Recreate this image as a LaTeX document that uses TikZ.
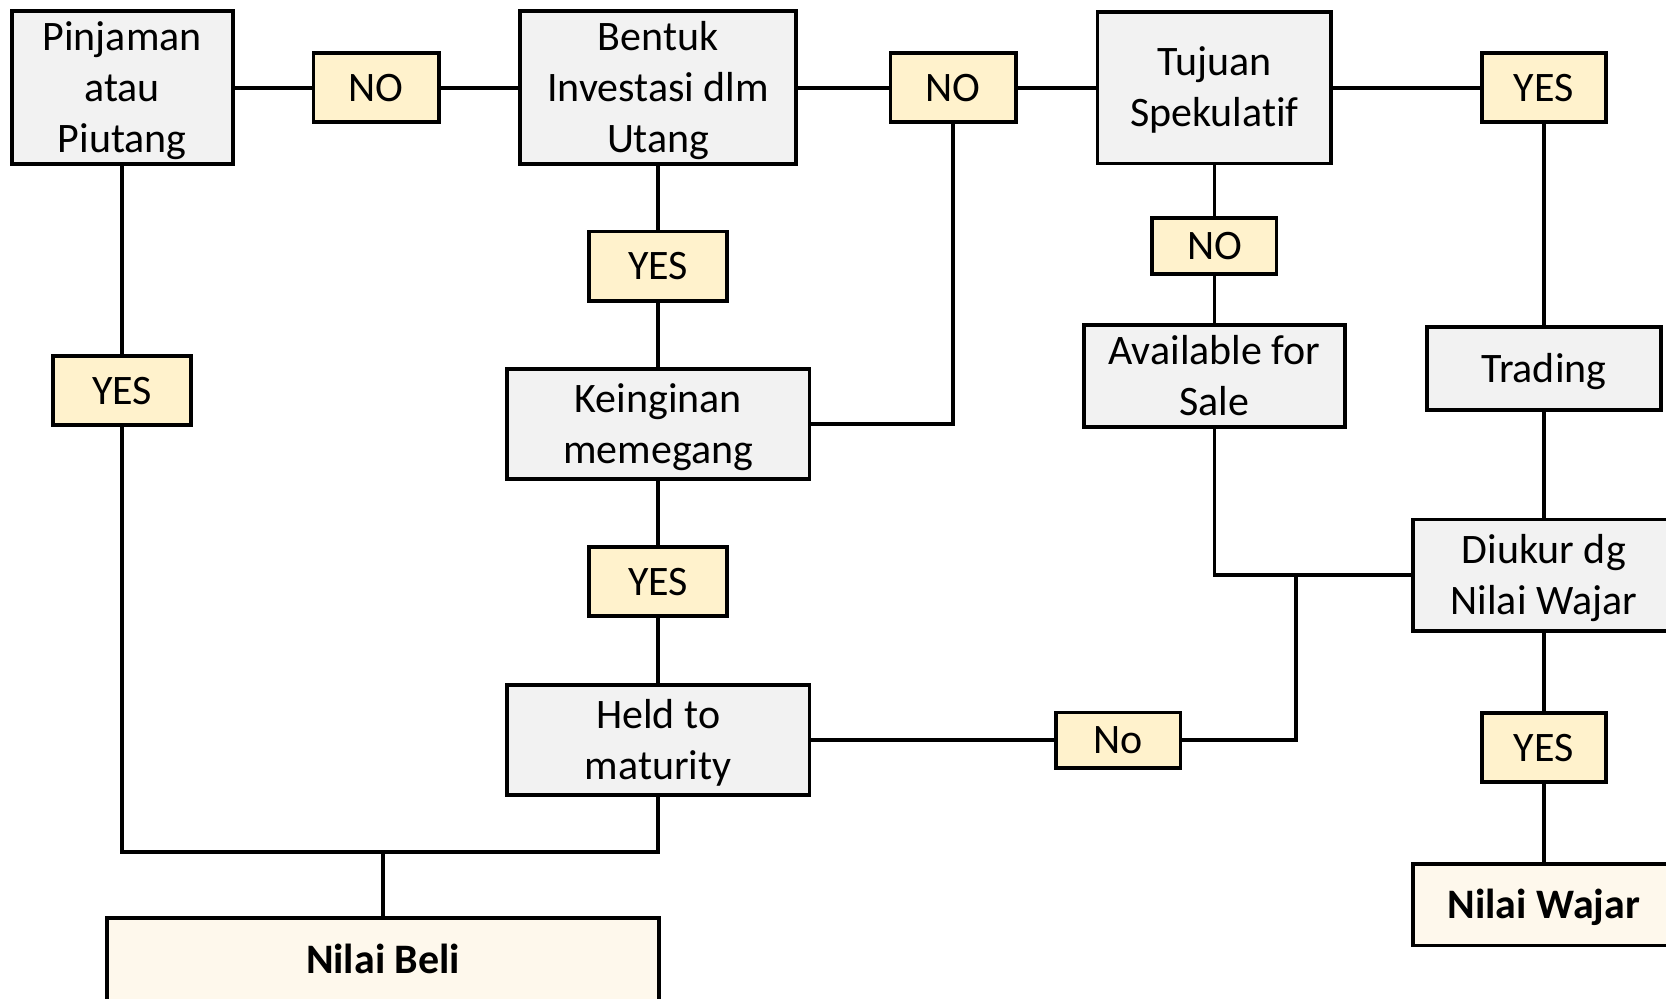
\documentclass[tikz,border=0pt]{standalone}
\usepackage{fontspec}
\setmainfont{Carlito}[Ligatures=NoCommon]
\definecolor{boxgray}{HTML}{F2F2F2}
\definecolor{lblyellow}{HTML}{FFF2CC}
\definecolor{endcream}{HTML}{FEF8EC}
\newcommand{\tx}[1]{\raisebox{-3.4pt}[\height][\depth]{\begin{tabular}{@{}c@{}}#1\end{tabular}}}
\tikzset{
  base/.style={draw=black, line width=3.5pt, rectangle, inner sep=0pt, align=center,
    font=\fontsize{39.5}{48}\selectfont},
  stepbox/.style={base, fill=boxgray},
  lbl/.style={base, fill=lblyellow},
  endbox/.style={base, fill=endcream, font=\fontsize{39.5}{48}\selectfont\bfseries},
  conn/.style={draw=black, line width=3.5pt}
}
\begin{document}
\begin{tikzpicture}[x=1pt,y=-1pt]
\clip (0,0) rectangle (1568,940);
\fill[white] (0,0) rectangle (1568,940);
% main boxes
\node[stepbox, minimum width=208, minimum height=143] (pin) at (115,82.5) {\tx{Pinjaman\\atau\\Piutang}};
\node[stepbox, minimum width=260, minimum height=143] (ben) at (619.5,82.5) {\tx{Bentuk\\Investasi dlm\\Utang}};
\node[stepbox, minimum width=220, minimum height=143] (tuj) at (1143,82.5) {\tx{Tujuan\\Spekulatif}};
\node[stepbox, minimum width=285, minimum height=104] (kei) at (619.5,399) {\tx{Keinginan\\memegang}};
\node[stepbox, minimum width=285, minimum height=103] (held) at (619.5,696.5) {\tx{Held to\\maturity}};
\node[stepbox, minimum width=246, minimum height=92] (avs) at (1143,354) {\tx{Available for\\Sale}};
\node[stepbox, minimum width=220, minimum height=78] (trd) at (1453,347) {\tx{Trading}};
\node[stepbox, minimum width=246, minimum height=105] (diu) at (1453,541.5) {\tx{Diukur dg\\Nilai Wajar}};
% end boxes
\node[endbox, minimum width=519, minimum height=78] (nb) at (360.5,903) {\tx{Nilai Beli}};
\node[endbox, minimum width=246, minimum height=77] (nw) at (1453,851.5) {\tx{Nilai Wajar}};
% labels
\node[lbl, minimum width=118, minimum height=65] (no1) at (354,82.5) {\tx{NO}};
\node[lbl, minimum width=118, minimum height=65] (no2) at (897,82.5) {\tx{NO}};
\node[lbl, minimum width=117, minimum height=65] (yes1) at (1453,82.5) {\tx{YES}};
\node[lbl, minimum width=130, minimum height=65] (yesL) at (115,367.5) {\tx{YES}};
\node[lbl, minimum width=130, minimum height=65] (yes2) at (619.5,250.5) {\tx{YES}};
\node[lbl, minimum width=130, minimum height=65] (yes3) at (619.5,547.5) {\tx{YES}};
\node[lbl, minimum width=117, minimum height=53] (no3) at (1143,231.5) {\tx{NO}};
\node[lbl, minimum width=117, minimum height=52] (no4) at (1052.5,696.5) {\tx{No}};
\node[lbl, minimum width=117, minimum height=65] (yes4) at (1453,703.5) {\tx{YES}};
% junctions
\coordinate (jb) at (360.5,802);
\coordinate (jd) at (1220,541.5);
% connectors
\draw[conn] (pin) -- (no1) -- (ben);
\draw[conn] (ben) -- (no2) -- (tuj);
\draw[conn] (tuj) -- (yes1);
\draw[conn] (yes1) -- (trd);
\draw[conn] (trd) -- (diu);
\draw[conn] (diu) -- (yes4) -- (nw);
\draw[conn] (pin) -- (yesL);
\draw[conn] (yesL.south) |- (jb) -| (held.south);
\draw[conn] (jb) -- (nb);
\draw[conn] (ben) -- (yes2) -- (kei);
\draw[conn] (no2.south) |- (kei.east);
\draw[conn] (kei) -- (yes3) -- (held);
\draw[conn] (held.east) -- (no4.west);
\draw[conn] (no4.east) -| (jd);
\draw[conn] (tuj) -- (no3) -- (avs);
\draw[conn] (avs.south) |- (diu.west);
\end{tikzpicture}
\end{document}
